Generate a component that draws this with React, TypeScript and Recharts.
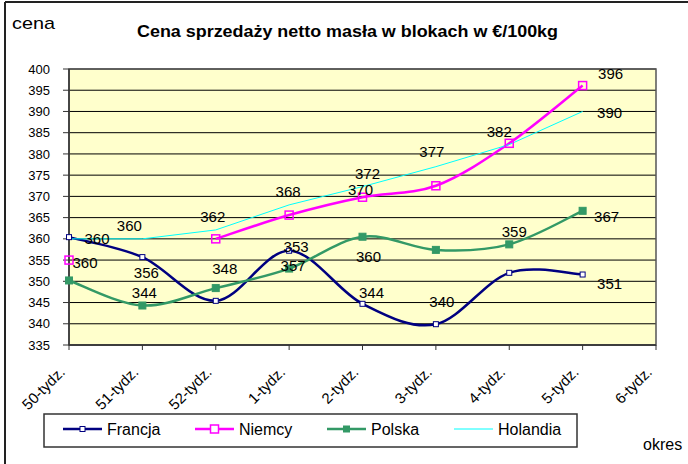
import React from 'react';
import { LineChart, Line, XAxis, YAxis, CartesianGrid, LabelList, ReferenceArea } from 'recharts';

const FONT = 'Arial, "Liberation Sans", sans-serif';

const WEEKS = ['50-tydz.', '51-tydz.', '52-tydz.', '1-tydz.', '2-tydz.', '3-tydz.', '4-tydz.', '5-tydz.', '6-tydz.'];

const FRANCJA = [360.4, 355.7, 345.4, 357.2, 344.7, 339.9, 352, 351.6, null];
const NIEMCY = [355, null, 360, 365.6, 369.8, 372.5, 382.5, 396.1, null];
const POLSKA = [350.2, 344.3, 348.4, 353, 360.5, 357.4, 358.7, 366.6, null];
const HOLANDIA = [360, 360, 362.1, 368, 372.3, 377, 382.2, 390, null];

// data labels as they appear on the chart
const FRANCJA_LABELS = [null, '356', null, '353', '344', '340', null, '351', null];
const NIEMCY_LABELS = ['360', null, null, null, '370', null, '382', '396', null];
const POLSKA_LABELS = [null, '344', '348', '357', '360', null, '359', '367', null];
const HOLANDIA_LABELS = ['360', '360', '362', '368', '372', '377', null, '390', null];

const Y_TICKS = [335, 340, 345, 350, 355, 360, 365, 370, 375, 380, 385, 390, 395, 400];

// label offsets from the point (center of text)
const FRANCJA_OFF = [[0, 0], [4, 15], [0, 0], [7, -4], [9, -11], [6, -23], [0, 0], [27, 9], [0, 0]];
const NIEMCY_OFF = [[16, 2], [0, 0], [0, 0], [0, 0], [-2, -8], [0, 0], [-10, -12], [28, -12], [0, 0]];
const POLSKA_OFF = [[0, 0], [2, -13], [9, -20], [4, -3], [6, 20], [0, 0], [5, -13], [24, 6], [0, 0]];
const HOLANDIA_OFF = [[28, 0], [-13, -13], [-3, -13], [-1, -13], [5, -13], [-4, -15], [0, 0], [27, 1], [0, 0]];

const data = WEEKS.map((week, i) => ({
  week,
  francja: FRANCJA[i],
  niemcy: NIEMCY[i],
  polska: POLSKA[i],
  holandia: HOLANDIA[i],
  francjaLabel: FRANCJA_LABELS[i],
  niemcyLabel: NIEMCY_LABELS[i],
  polskaLabel: POLSKA_LABELS[i],
  holandiaLabel: HOLANDIA_LABELS[i],
}));

// Excel-like smoothed line (Catmull-Rom through the points)
const excelSmooth = (ctx: any) => {
  let pts: number[][] = [];
  return {
    areaStart() {},
    areaEnd() {},
    lineStart() {
      pts = [];
    },
    point(x: number, y: number) {
      pts.push([+x, +y]);
    },
    lineEnd() {
      if (!pts.length) return;
      ctx.moveTo(pts[0][0], pts[0][1]);
      for (let i = 0; i < pts.length - 1; i++) {
        const p0 = pts[i - 1] || pts[i];
        const p1 = pts[i];
        const p2 = pts[i + 1];
        const p3 = pts[i + 2] || p2;
        ctx.bezierCurveTo(
          p1[0] + (p2[0] - p0[0]) / 6,
          p1[1] + (p2[1] - p0[1]) / 6,
          p2[0] - (p3[0] - p1[0]) / 6,
          p2[1] - (p3[1] - p1[1]) / 6,
          p2[0],
          p2[1]
        );
      }
    },
  };
};

const squareDot = (size: number, stroke: string, fill: string, sw: number) => (props: any) => {
  const { cx, cy, index } = props;
  if (cx == null || cy == null || isNaN(cy)) return <g key={`d-${index}`} />;
  return (
    <rect
      key={`d-${index}`}
      x={cx - size / 2}
      y={cy - size / 2}
      width={size}
      height={size}
      fill={fill}
      stroke={stroke}
      strokeWidth={sw}
    />
  );
};

const makeLabel = (offsets: number[][]) => (props: any) => {
  const { index, value } = props;
  if (value == null || value === '') return null;
  const x = props.x ?? props.viewBox?.x;
  const y = props.y ?? props.viewBox?.y;
  if (x == null || y == null) return null;
  const [dx, dy] = offsets[index] || [0, 0];
  return (
    <text
      key={`l-${index}`}
      x={x + dx}
      y={y + dy}
      textAnchor="middle"
      dominantBaseline="central"
      fontSize={15}
      fontFamily={FONT}
      fill="#000"
    >
      {value}
    </text>
  );
};

const XTick = (props: any) => {
  const { x, y, payload } = props;
  return (
    <text
      x={x - 3}
      y={y + 21}
      transform={`rotate(-45, ${x - 3}, ${y + 21})`}
      textAnchor="end"
      fontSize={15}
      fontFamily={FONT}
      fill="#000"
    >
      {payload.value}
    </text>
  );
};

const SERIES = [
  { key: 'francja', name: 'Francja', color: '#000080', width: 2.5, smooth: true, dot: squareDot(5, '#000080', '#ffffff', 1), off: FRANCJA_OFF },
  { key: 'niemcy', name: 'Niemcy', color: '#FF00FF', width: 2.5, smooth: true, dot: squareDot(8, '#FF00FF', 'none', 1.5), off: NIEMCY_OFF },
  { key: 'polska', name: 'Polska', color: '#339966', width: 2.5, smooth: true, dot: squareDot(7, '#339966', '#339966', 1), off: POLSKA_OFF },
  { key: 'holandia', name: 'Holandia', color: '#00FFFF', width: 1, smooth: false, dot: null, off: HOLANDIA_OFF },
];

const LEGEND_X = [63, 195, 327, 454];

const LegendMarker = ({ s, x, y }: any) => {
  if (s.key === 'francja') return <rect x={x - 2.5} y={y - 2.5} width={5} height={5} fill="#fff" stroke={s.color} strokeWidth={1} />;
  if (s.key === 'niemcy') return <rect x={x - 4} y={y - 4} width={8} height={8} fill="#fff" stroke={s.color} strokeWidth={1.5} />;
  if (s.key === 'polska') return <rect x={x - 3.5} y={y - 3.5} width={7} height={7} fill={s.color} />;
  return null;
};

export default function App() {
  return (
    <div style={{ position: 'absolute', left: 0, top: 0, width: 688, height: 464, overflow: 'hidden', background: '#fff' }}>
      <div style={{ position: 'absolute', left: 0, top: 0 }}>
        <LineChart width={688} height={464} data={data} margin={{ top: 69, right: 32, bottom: 59, left: 0 }}>
          <CartesianGrid vertical={false} stroke="#000" strokeWidth={1} fill="#FFFFCC" fillOpacity={1} />
          <ReferenceArea x1="50-tydz." x2="6-tydz." y1={335} y2={400} fill="none" stroke="#555" strokeWidth={1.5} ifOverflow="visible" />
          <XAxis
            dataKey="week"
            scale="point"
            padding={{ left: 0, right: 0 }}
            interval={0}
            tickSize={5}
            height={60}
            axisLine={{ stroke: '#333', strokeWidth: 1.5 }}
            tickLine={{ stroke: '#333' }}
            tick={<XTick />}
          />
          <YAxis
            type="number"
            domain={[335, 400]}
            ticks={Y_TICKS}
            interval={0}
            width={69}
            tickSize={6}
            tickMargin={13}
            axisLine={{ stroke: '#333', strokeWidth: 1.5 }}
            tickLine={{ stroke: '#333' }}
            tick={{ fontSize: 13, fill: '#000', fontFamily: FONT }}
          />
          {SERIES.map((s) => (
            <Line
              key={s.key}
              dataKey={s.key}
              name={s.name}
              type={s.smooth ? (excelSmooth as any) : 'linear'}
              stroke={s.color}
              strokeWidth={s.width}
              dot={s.dot ? s.dot : false}
              activeDot={false}
              connectNulls={false}
              isAnimationActive={false}
            >
              <LabelList dataKey={`${s.key}Label`} content={makeLabel(s.off)} />
            </Line>
          ))}
        </LineChart>
      </div>
      <svg width={688} height={464} style={{ position: 'absolute', left: 0, top: 0, pointerEvents: 'none' }}>
        <line x1={5} y1={2} x2={688} y2={2} stroke="#222" strokeWidth={2} />
        <line x1={5} y1={2} x2={5} y2={464} stroke="#222" strokeWidth={2} />
        <text x={12} y={29} fontSize={17} fontFamily={FONT} fill="#000" textLength={43} lengthAdjust="spacingAndGlyphs">
          cena
        </text>
        <text x={137} y={36.5} fontSize={16} fontWeight="bold" fontFamily={FONT} fill="#000" textLength={421} lengthAdjust="spacingAndGlyphs">
          Cena sprzedaży netto masła w blokach w €/100kg
        </text>
        <text x={643} y={450} fontSize={16} fontFamily={FONT} fill="#000">
          okres
        </text>
        <rect x={44} y={414} width={533} height={33} fill="#fff" stroke="#333" strokeWidth={1.5} />
        {SERIES.map((s, i) => {
          const x0 = LEGEND_X[i];
          return (
            <g key={s.key}>
              <line x1={x0} y1={429} x2={x0 + 39} y2={429} stroke={s.color} strokeWidth={s.width} />
              <LegendMarker s={s} x={x0 + 19.5} y={429} />
              <text x={x0 + 44} y={435} fontSize={16} fontFamily={FONT} fill="#000">
                {s.name}
              </text>
            </g>
          );
        })}
      </svg>
    </div>
  );
}
